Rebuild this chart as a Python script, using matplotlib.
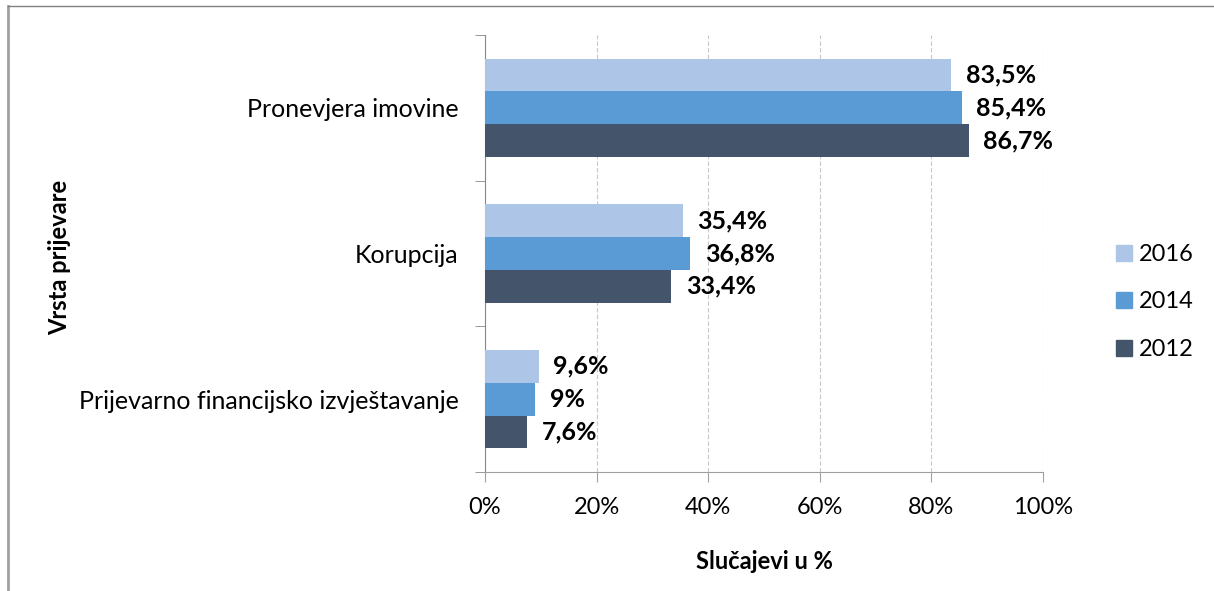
import matplotlib
matplotlib.use("Agg")
import matplotlib.pyplot as plt
from matplotlib.lines import Line2D
from matplotlib.patches import Patch
import numpy as np

categories = ["Pronevjera imovine", "Korupcija", "Prijevarno financijsko izvještavanje"]
years = ["2016", "2014", "2012"]
values = {
    "2016": [83.5, 35.4, 9.6],
    "2014": [85.4, 36.8, 9.0],
    "2012": [86.7, 33.4, 7.6],
}
colors = {"2016": "#adc5e6", "2014": "#5b9bd5", "2012": "#44546a"}

plt.rcParams["font.family"] = ["Lato", "DejaVu Sans"]
FS = 17

fig = plt.figure(figsize=(12.14, 5.91), dpi=100)
ax = fig.add_axes([485 / 1214, 1 - 472 / 591, (1043 - 485) / 1214, (472 - 35) / 591])

bar_h = 0.225
pos = np.arange(len(categories))
for k, yr in enumerate(years):
    y = pos + (k - 1) * bar_h
    ax.barh(y, values[yr], height=bar_h, color=colors[yr], zorder=3)
    for yy, v in zip(y, values[yr]):
        txt = ("%.1f" % v).replace(".", ",")
        if txt.endswith(",0"):
            txt = txt[:-2]
        ax.annotate(txt + "%", xy=(v, yy), xytext=(10.5, 0), textcoords="offset points",
                    va="center", ha="left", fontsize=18, fontweight="bold")

ax.set_ylim(len(categories) - 0.5, -0.5)
ax.set_xlim(0, 100)
ax.set_yticks(pos)
ax.set_yticklabels(categories, fontsize=18)
ax.tick_params(axis="y", length=0, pad=19)
ax.set_yticks(np.arange(-0.5, len(categories)), minor=True)
ax.tick_params(axis="y", which="minor", length=7, color="#888888")
ax.set_xticks(np.arange(0, 101, 20))
ax.set_xticklabels(["%d%%" % t for t in range(0, 101, 20)], fontsize=FS)
ax.tick_params(axis="x", length=7, color="#a0a0a0", pad=11)
ax.grid(axis="x", color="#c8c8c8", linestyle=(0, (4, 2)), linewidth=0.8, zorder=0)
for s in ["top", "right"]:
    ax.spines[s].set_visible(False)
ax.spines["left"].set_color("#888888")
ax.spines["bottom"].set_color("#a0a0a0")

ax.set_xlabel("Slučajevi u %", fontsize=FS, fontweight="bold", labelpad=23)
fig.text(60 / 1214, 1 - 257 / 591, "Vrsta prijevare", rotation=90, fontsize=FS,
         fontweight="bold", ha="center", va="center")

handles = [Patch(color=colors[yr]) for yr in years]
fig.legend(handles, years, loc="center left", bbox_to_anchor=(1116 / 1214, 1 - 302 / 591),
           frameon=False, fontsize=FS, handlelength=0.68, handleheight=0.68,
           handletextpad=0.3, labelspacing=1.12, borderpad=0, borderaxespad=0)

# outer border
fig.add_artist(Line2D([8 / 1214, 8 / 1214], [0, 1 - 6 / 591], transform=fig.transFigure,
                      color="#a0a0a0", linewidth=2))
fig.add_artist(Line2D([8 / 1214, 1], [1 - 6 / 591, 1 - 6 / 591], transform=fig.transFigure,
                      color="#808080", linewidth=1))

fig.savefig("out.png", dpi=100)
